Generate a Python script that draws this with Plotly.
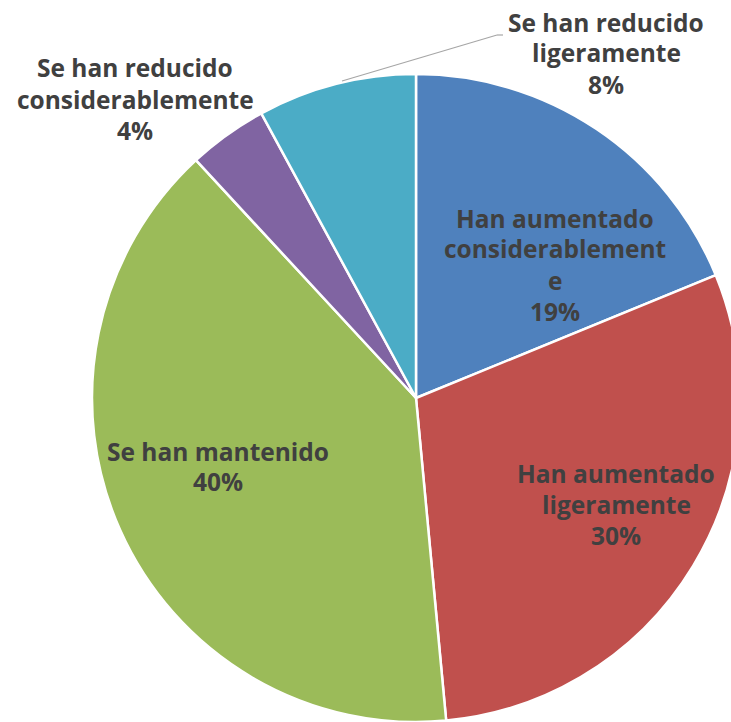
import plotly.graph_objects as go

# Survey answers and their shares
categories = [
    "Han aumentado considerablemente",
    "Han aumentado ligeramente",
    "Se han mantenido",
    "Se han reducido considerablemente",
    "Se han reducido ligeramente",
]
values = [19, 30, 40, 4, 8]
colors = ["#4F81BD", "#C0504D", "#9BBB59", "#8064A2", "#4BACC6"]

# Label text broken into lines, as drawn
label_lines = [
    ["Han aumentado", "considerablement", "e", "19%"],
    ["Han aumentado", "ligeramente", "30%"],
    ["Se han mantenido", "40%"],
    ["Se han reducido", "considerablemente", "4%"],
    ["Se han reducido", "ligeramente", "8%"],
]

W, H = 745, 722
cx, cy, r = 416, 398, 324  # pie centre and radius in pixels

fig = go.Figure(
    go.Pie(
        labels=categories,
        values=values,
        sort=False,
        direction="clockwise",
        rotation=0,
        marker=dict(colors=colors, line=dict(color="white", width=2.5)),
        textinfo="none",
        hoverinfo="label+percent",
        showlegend=False,
        domain=dict(
            x=[(cx - r) / W, (cx + r) / W],
            y=[(H - (cy + r)) / H, (H - (cy - r)) / H],
        ),
    )
)

# label anchors: centre x and first-line y (pixels from top)
anchors = [(555, 218), (616, 473), (218, 451), (135, 68), (606, 22)]
line_gap = 31
font = dict(family="'Open Sans', sans-serif", size=24.5, color="#404040")

for lines, (ax, ay) in zip(label_lines, anchors):
    for i, txt in enumerate(lines):
        fig.add_annotation(
            x=ax / W, y=1 - (ay + i * line_gap) / H,
            xref="paper", yref="paper",
            text=f"<b>{txt}</b>", showarrow=False,
            font=font, xanchor="center", yanchor="middle",
        )

# leader line for the small cyan slice
fig.add_shape(
    type="line", xref="paper", yref="paper",
    x0=342 / W, y0=1 - 81 / H, x1=497 / W, y1=1 - 35 / H,
    line=dict(color="#A6A6A6", width=1.2),
)
fig.add_shape(
    type="line", xref="paper", yref="paper",
    x0=497 / W, y0=1 - 35 / H, x1=503 / W, y1=1 - 35 / H,
    line=dict(color="#A6A6A6", width=1.2),
)

fig.update_layout(
    width=W, height=H,
    margin=dict(l=0, r=0, t=0, b=0),
    paper_bgcolor="white",
    plot_bgcolor="white",
)

fig.write_html(
    "out.html",
    post_script="document.documentElement.style.overflow='hidden';document.body.style.overflow='hidden';document.body.style.margin='0';",
)
